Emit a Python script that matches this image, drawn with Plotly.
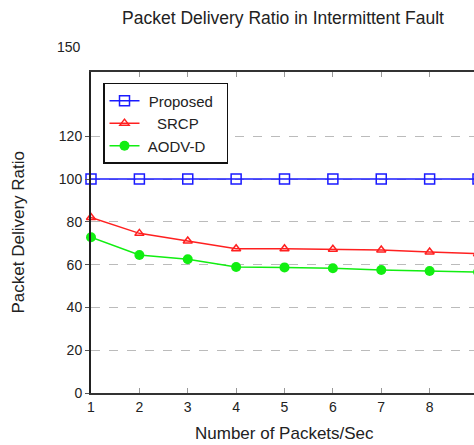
import plotly.graph_objects as go

x_packets = [1, 2, 3, 4, 5, 6, 7, 8, 9]
proposed = [100, 100, 100, 100, 100, 100, 100, 100, 100]
srcp = [82, 74.6, 71.0, 67.4, 67.4, 67.2, 66.8, 65.9, 65.1]
aodv_d = [72.8, 64.5, 62.5, 58.9, 58.7, 58.3, 57.5, 57.0, 56.5]

x_ticks = [1, 2, 3, 4, 5, 6, 7, 8, 9]
y_ticks = [0, 20, 40, 60, 80, 100, 120]
y_top = 150
x_end = 9.0

font_family = "Liberation Sans, Arial, sans-serif"
txt = "#222222"
W, H = 478, 445
plot_w = W - 91

fig = go.Figure()
fig.add_trace(go.Scatter(
    x=x_packets, y=proposed, name=" Proposed  ", mode="lines+markers",
    line=dict(color="#1a1aff", width=1.5),
    marker=dict(symbol="square-open", size=10, color="#1a1aff", line=dict(width=1.5)),
    cliponaxis=False))
fig.add_trace(go.Scatter(
    x=x_packets, y=srcp, name="   SRCP", mode="lines+markers",
    line=dict(color="#ff2020", width=1.5),
    marker=dict(symbol="triangle-up-open", size=8, color="#ff2020", line=dict(width=1.5)),
    cliponaxis=False))
fig.add_trace(go.Scatter(
    x=x_packets, y=aodv_d, name=" AODV-D", mode="lines+markers",
    line=dict(color="#11ee11", width=1.5),
    marker=dict(symbol="circle", size=10, color="#11ee11"),
    cliponaxis=False))

fig.update_layout(
    width=W, height=H,
    margin=dict(l=91, r=0, t=72, b=52, pad=0),
    paper_bgcolor="white", plot_bgcolor="white",
    font=dict(family=font_family, size=14, color=txt),
    title=dict(text="Packet Delivery Ratio in Intermittent Fault",
               x=283 / W, xref="container", xanchor="center",
               y=1 - 18 / H, yref="container", yanchor="middle",
               font=dict(size=17.5, color=txt)),
    showlegend=True,
    legend=dict(x=12 / plot_w, y=0.966, xanchor="left", yanchor="top",
                bgcolor="white", bordercolor="#111111", borderwidth=1.5,
                font=dict(size=15, color=txt),
                tracegroupgap=0, itemwidth=30),
)

fig.update_xaxes(
    range=[1, x_end], tickvals=x_ticks, ticktext=[str(v) for v in x_ticks],
    ticks="inside", ticklen=5, tickcolor="#999999", tickwidth=1,
    showline=True, linecolor="#333333", linewidth=2, mirror="ticks",
    showgrid=False, zeroline=False,
    tickfont=dict(size=14, color=txt),
)
fig.update_yaxes(
    range=[0, y_top], tickvals=y_ticks, ticktext=[str(v) for v in y_ticks],
    ticks="outside", ticklen=4, tickcolor="#555555",
    showline=True, linecolor="#222222", linewidth=2, mirror=False,
    showgrid=True, gridcolor="#bbbbbb", griddash="dash", gridwidth=1,
    zeroline=False,
    tickfont=dict(size=14, color=txt),
)

# axis titles
fig.add_annotation(text="Number of Packets/Sec", xref="paper", yref="paper",
                   x=(284 - 91) / plot_w, y=(393 - 433) / 321, xanchor="center", yanchor="middle",
                   showarrow=False, font=dict(size=17, color=txt))
fig.add_annotation(text="Packet Delivery Ratio", xref="paper", yref="paper",
                   x=(18 - 91) / plot_w, y=0.5, xanchor="center", yanchor="middle",
                   textangle=-90, showarrow=False, font=dict(size=17, color=txt))

# top value label displaced above the frame, as in the original
fig.add_annotation(text=str(y_top), xref="paper", yref="paper",
                   x=-8 / plot_w, y=(393 - 47) / 321, xanchor="right", yanchor="middle",
                   showarrow=False, font=dict(size=14, color=txt))

fig.write_html(
    "out.html",
    post_script="document.documentElement.style.overflow='hidden';"
                "document.body.style.overflow='hidden';",
)
